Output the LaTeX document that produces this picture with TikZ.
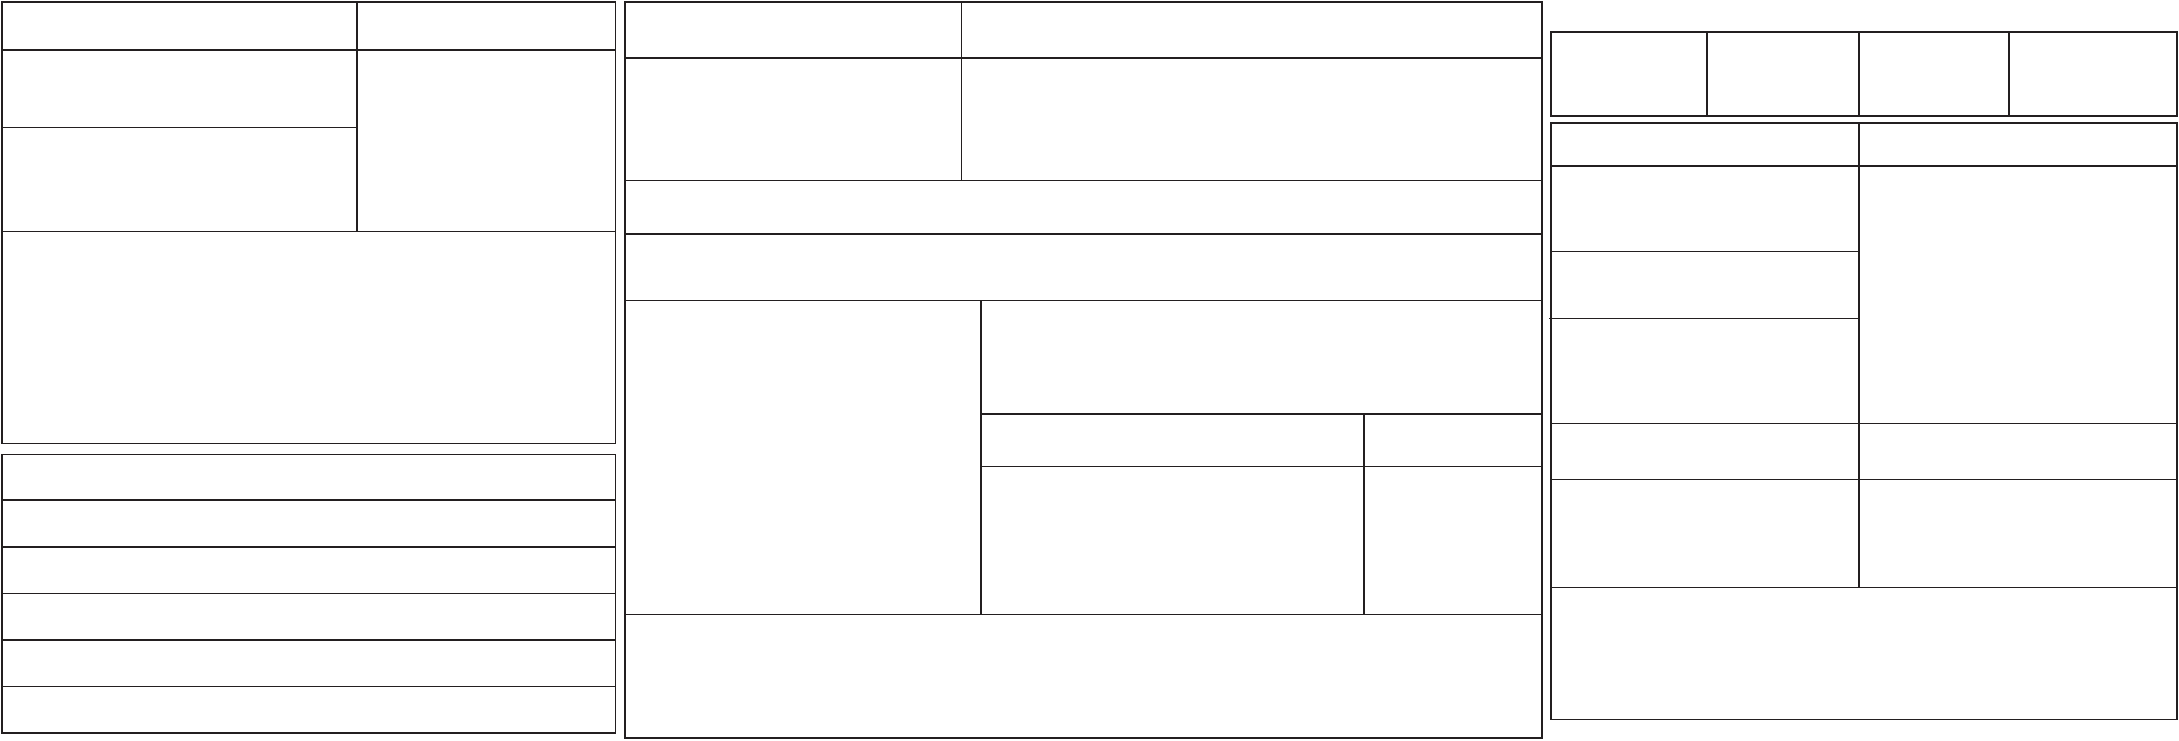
\documentclass[tikz,border=0pt]{standalone}
\usepackage{tikz}
\usetikzlibrary{calc}
\definecolor{frameink}{RGB}{35,31,32}
\tikzset{frame/.style={draw=frameink, line width=1.5pt}}

\begin{document}
\begin{tikzpicture}[x=1pt, y=-1pt, line join=miter]
    \useasboundingbox (0,0) rectangle (2179,740);

    % left, upper block
    \draw[frame](2,2) rectangle (615.5,443.5);
    \draw[frame](2,50)--(615.5,50);
    \draw[frame](357,2)--(357,231.5);
    \draw[frame](2,127.5)--(357,127.5);
    \draw[frame](2,231.5)--(615.5,231.5);

    % left, lower block
    \draw[frame](2,454.5) rectangle (615.5,733);
\foreach \y in {500,547,593.5,640,686.5}
{
    \draw[frame](2,\y)--(615.5,\y);
}

    % middle block
    \draw[frame](625,2) rectangle (1542,738);
    \draw[frame](625,58)--(1542,58);
    \draw[frame](961.5,2)--(961.5,180.5);
\foreach \y in {180.5,234,300.5,614.5}
{
    \draw[frame](625,\y)--(1542,\y);
}
    \draw[frame](981,300.5)--(981,614.5);
    \draw[frame](981,414)--(1542,414);
    \draw[frame](981,466.5)--(1542,466.5);
    \draw[frame](1364,414)--(1364,614.5);

    % right, top row
    \draw[frame](1551,32) rectangle (2177,116);
\foreach \x in {1707,1859,2009}
{
    \draw[frame](\x,32)--(\x,116);
}

    % right, lower block
    \draw[frame](1551,123) rectangle (2177,719.5);
    \draw[frame](1551,166)--(2177,166);
    \draw[frame](1859,123)--(1859,587.5);
    \draw[frame](1551,251.5)--(1859,251.5);
    \draw[frame](1549,318.5)--(1859,318.5);
\foreach \y in {423.5,479.5,587.5}
{
    \draw[frame](1551,\y)--(2177,\y);
}

\end{tikzpicture}
\end{document}
